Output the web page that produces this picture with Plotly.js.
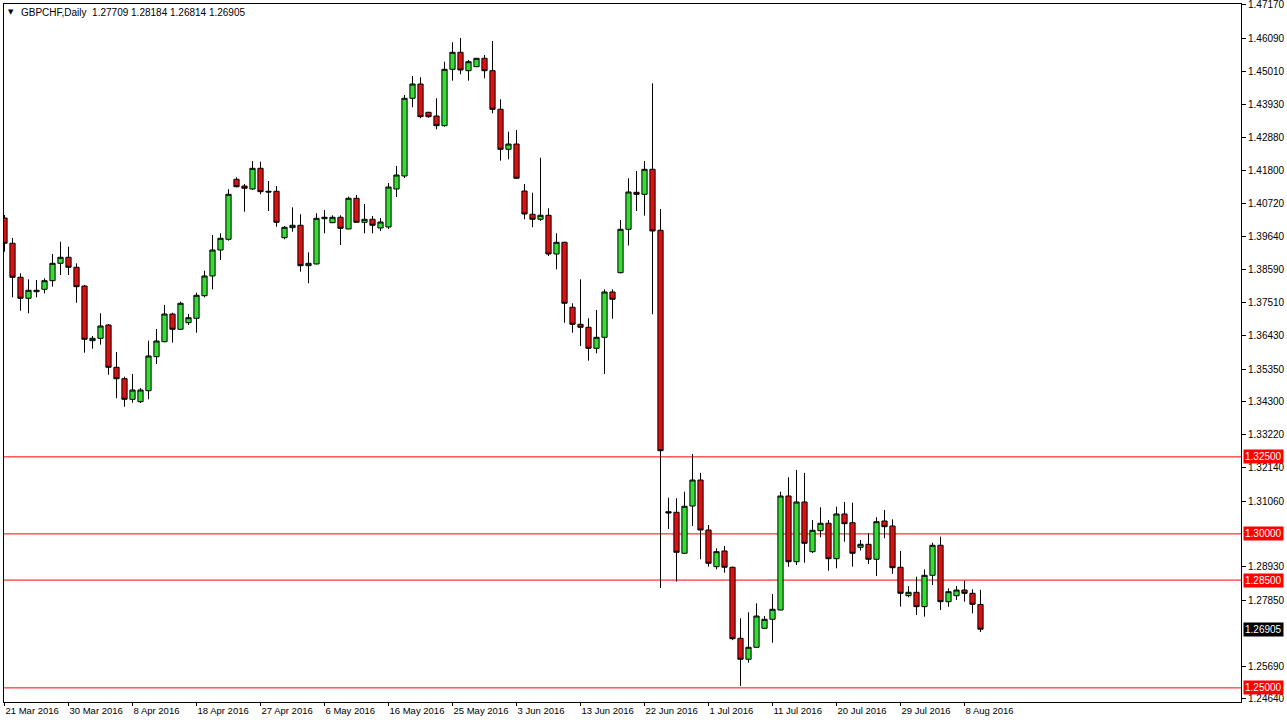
<!DOCTYPE html>
<html><head><meta charset="utf-8">
<script src="https://cdn.plot.ly/plotly-3.0.1.min.js"></script>
<style>html,body{margin:0;padding:0;background:#fff;}#chart{width:1287px;height:725px;}</style>
</head><body><div id="chart"></div>
<script>
const dates = [
'2016-03-21','2016-03-22','2016-03-23','2016-03-24','2016-03-25','2016-03-27','2016-03-28','2016-03-29',
'2016-03-30','2016-03-31','2016-04-01','2016-04-03','2016-04-04','2016-04-05','2016-04-06','2016-04-07',
'2016-04-08','2016-04-10','2016-04-11','2016-04-12','2016-04-13','2016-04-14','2016-04-15','2016-04-17',
'2016-04-18','2016-04-19','2016-04-20','2016-04-21','2016-04-22','2016-04-24','2016-04-25','2016-04-26',
'2016-04-27','2016-04-28','2016-04-29','2016-05-01','2016-05-02','2016-05-03','2016-05-04','2016-05-05',
'2016-05-06','2016-05-08','2016-05-09','2016-05-10','2016-05-11','2016-05-12','2016-05-13','2016-05-15',
'2016-05-16','2016-05-17','2016-05-18','2016-05-19','2016-05-20','2016-05-22','2016-05-23','2016-05-24',
'2016-05-25','2016-05-26','2016-05-27','2016-05-29','2016-05-30','2016-05-31','2016-06-01','2016-06-02',
'2016-06-03','2016-06-05','2016-06-06','2016-06-07','2016-06-08','2016-06-09','2016-06-10','2016-06-12',
'2016-06-13','2016-06-14','2016-06-15','2016-06-16','2016-06-17','2016-06-19','2016-06-20','2016-06-21',
'2016-06-22','2016-06-23','2016-06-24','2016-06-26','2016-06-27','2016-06-28','2016-06-29','2016-06-30',
'2016-07-01','2016-07-03','2016-07-04','2016-07-05','2016-07-06','2016-07-07','2016-07-08','2016-07-10',
'2016-07-11','2016-07-12','2016-07-13','2016-07-14','2016-07-15','2016-07-17','2016-07-18','2016-07-19',
'2016-07-20','2016-07-21','2016-07-22','2016-07-24','2016-07-25','2016-07-26','2016-07-27','2016-07-28',
'2016-07-29','2016-07-31','2016-08-01','2016-08-02','2016-08-03','2016-08-04','2016-08-05','2016-08-07',
'2016-08-08','2016-08-09','2016-08-10'];

const openP = [
1.40255,1.39434,1.38330,1.37648,1.37862,1.37940,1.38219,1.38784,
1.38979,1.38654,1.38047,1.36272,1.36349,1.36781,1.35408,1.35038,
1.34369,1.34291,1.34648,1.35752,1.36239,1.37138,1.36642,1.36856,
1.36999,1.37732,1.38372,1.39216,1.39563,1.41511,1.41294,1.41196,
1.41868,1.41122,1.41122,1.39615,1.39940,1.40018,1.38706,1.38762,
1.40232,1.40102,1.40278,1.39898,1.40895,1.40115,1.40213,1.39930,
1.39963,1.41196,1.41618,1.44141,1.44605,1.43686,1.43566,1.43251,
1.45082,1.45634,1.45037,1.45167,1.45439,1.45037,1.43784,1.42485,
1.42657,1.41131,1.40375,1.40213,1.40343,1.39086,1.39466,1.37356,
1.36804,1.36707,1.36025,1.36382,1.37853,1.38479,1.39888,1.41089,
1.41024,1.41836,1.39856,1.30720,1.30701,1.29370,1.30905,1.31749,
1.30126,1.28935,1.29445,1.28916,1.26610,1.25929,1.26318,1.26935,
1.27227,1.27529,1.31230,1.29097,1.31035,1.29422,1.30103,1.30344,
1.29194,1.30646,1.30363,1.29564,1.29662,1.29175,1.30418,1.30256,
1.28916,1.27993,1.28103,1.27637,1.28655,1.29630,1.27798,1.27993,
1.28178,1.28071,1.27709];

const highP = [
1.40352,1.39606,1.38460,1.38265,1.38242,1.38297,1.39086,1.39485,
1.39323,1.38784,1.38080,1.36424,1.37161,1.36814,1.35905,1.35103,
1.35191,1.34736,1.36272,1.36651,1.37431,1.37181,1.37538,1.37138,
1.37830,1.38544,1.39703,1.39758,1.41187,1.41576,1.41359,1.42105,
1.42083,1.41456,1.41294,1.39995,1.40602,1.40375,1.39141,1.40407,
1.40515,1.40343,1.40343,1.40946,1.41002,1.40709,1.40320,1.40255,
1.41391,1.41943,1.44248,1.44865,1.44823,1.43700,1.44141,1.45329,
1.45959,1.46098,1.45384,1.45450,1.45546,1.46001,1.44108,1.43057,
1.43112,1.41359,1.41076,1.42212,1.40570,1.39758,1.39485,1.37486,
1.38265,1.36999,1.37268,1.37940,1.37940,1.40190,1.41544,1.41781,
1.42105,1.44628,1.40547,1.31175,1.31156,1.31369,1.32593,1.31981,
1.30288,1.29532,1.29607,1.28935,1.27260,1.27454,1.27746,1.27334,
1.28048,1.31369,1.31837,1.32074,1.31981,1.30451,1.30863,1.30451,
1.30883,1.31035,1.31013,1.29801,1.30019,1.30538,1.30775,1.30473,
1.29445,1.28308,1.28610,1.28850,1.29714,1.29909,1.28233,1.28308,
1.28480,1.28201,1.28184];

const lowP = [
1.39161,1.37680,1.37245,1.37161,1.37680,1.37810,1.38025,1.38404,
1.38404,1.37505,1.35882,1.36012,1.36142,1.35168,1.34402,1.34129,
1.34259,1.34249,1.34369,1.35515,1.36220,1.36207,1.36630,1.36781,
1.36531,1.37680,1.37940,1.38891,1.39518,1.41250,1.40459,1.41164,
1.41024,1.40482,1.39972,1.39563,1.39810,1.38512,1.38135,1.38750,
1.39758,1.40090,1.39378,1.39890,1.40110,1.39758,1.39758,1.39833,
1.39898,1.40937,1.41553,1.43849,1.43492,1.43510,1.43134,1.43220,
1.44712,1.44920,1.44712,1.45150,1.44790,1.43654,1.42115,1.42160,
1.41530,1.40213,1.39953,1.40158,1.39021,1.38589,1.36856,1.36531,
1.36100,1.35622,1.35863,1.35191,1.36986,1.38460,1.39362,1.40482,
1.40330,1.37129,1.28243,1.30159,1.28448,1.29360,1.30256,1.29175,
1.28935,1.28850,1.28740,1.26550,1.25062,1.25818,1.26300,1.26920,
1.26467,1.27520,1.28935,1.28990,1.29065,1.29380,1.29889,1.28805,
1.28883,1.29746,1.28935,1.29454,1.29022,1.28633,1.29857,1.28698,
1.27637,1.27941,1.27367,1.27312,1.28340,1.27529,1.27637,1.27854,
1.27798,1.27422,1.26814];

const closeP = [
1.39434,1.38330,1.37648,1.37908,1.37908,1.38219,1.38784,1.38979,
1.38654,1.38025,1.36317,1.36349,1.36749,1.35408,1.35038,1.34369,
1.34671,1.34671,1.35775,1.36262,1.37138,1.36642,1.37486,1.37018,
1.37745,1.38372,1.39216,1.39596,1.41024,1.41271,1.41219,1.41868,
1.41109,1.41099,1.40115,1.39953,1.40018,1.38706,1.38784,1.40245,
1.40278,1.40278,1.39921,1.40895,1.40115,1.40213,1.40018,1.40125,
1.41261,1.41651,1.44141,1.44605,1.43544,1.43544,1.43251,1.45082,
1.45634,1.45060,1.45329,1.45439,1.45037,1.43784,1.42485,1.42657,
1.41544,1.40385,1.40213,1.40343,1.39086,1.39466,1.37486,1.36804,
1.36707,1.36025,1.36382,1.37853,1.37616,1.39888,1.41099,1.41024,
1.41836,1.39833,1.32701,1.30678,1.29402,1.30896,1.31749,1.30126,
1.29045,1.29422,1.28916,1.26597,1.25929,1.26318,1.27334,1.27227,
1.27552,1.31230,1.29097,1.31035,1.29694,1.30116,1.30344,1.29194,
1.30646,1.30331,1.29370,1.29662,1.29175,1.30396,1.30233,1.28902,
1.28071,1.28103,1.27637,1.28655,1.29630,1.27798,1.28123,1.28178,
1.28071,1.27714,1.26905];

const tickDates = ['2016-03-21','2016-03-30','2016-04-08','2016-04-18','2016-04-27','2016-05-06','2016-05-16','2016-05-25',
  '2016-06-03','2016-06-13','2016-06-22','2016-07-01','2016-07-11','2016-07-20','2016-07-29','2016-08-08'];
const tickLabels = ['21 Mar 2016','30 Mar 2016','8 Apr 2016','18 Apr 2016','27 Apr 2016','6 May 2016','16 May 2016','25 May 2016',
  '3 Jun 2016','13 Jun 2016','22 Jun 2016','1 Jul 2016','11 Jul 2016','20 Jul 2016','29 Jul 2016','8 Aug 2016'];
const priceTicks = [1.47170,1.46090,1.45010,1.43930,1.42880,1.41800,1.40720,1.39640,1.38590,1.37510,1.36430,
  1.35350,1.34300,1.33220,1.32140,1.31060,1.28930,1.27850,1.25690,1.24640];
const levelLines = [1.32500, 1.30000, 1.28500, 1.25000];
const lastPrice = 1.26905;
const headerSymbol = 'GBPCHF,Daily';
const headerOHLC = [1.27709, 1.28184, 1.26814, 1.26905];

const FONT = 'Liberation Sans, Arial, sans-serif';

const trace = {
  type: 'candlestick',
  x: dates, open: openP, high: highP, low: lowP, close: closeP,
  increasing: {line: {color: '#000000', width: 1}, fillcolor: '#33dd33'},
  decreasing: {line: {color: '#000000', width: 1}, fillcolor: '#dd1111'},
  whiskerwidth: 0,
  hoverinfo: 'skip'
};

const shapes = levelLines.map(v => ({
  type: 'line', xref: 'paper', x0: 0, x1: 1, yref: 'y', y0: v, y1: v,
  line: {color: '#ff0000', width: 1}, layer: 'below'
}));

const annotations = [];
levelLines.forEach(v => annotations.push({
  xref: 'paper', x: 1, xanchor: 'left', xshift: 2, yref: 'y', y: v, yanchor: 'middle',
  text: v.toFixed(5), showarrow: false, bgcolor: '#ff0000', borderpad: 1,
  font: {family: FONT, size: 10, color: '#ffffff'}
}));
annotations.push({
  xref: 'paper', x: 1, xanchor: 'left', xshift: 2, yref: 'y', y: lastPrice, yanchor: 'middle',
  text: lastPrice.toFixed(5), showarrow: false, bgcolor: '#000000', borderpad: 1,
  font: {family: FONT, size: 10, color: '#ffffff'}
});
annotations.push({
  xref: 'paper', yref: 'paper', x: 0, y: 1, xanchor: 'left', yanchor: 'top', xshift: 2, yshift: -2,
  text: '\u25BC', showarrow: false, font: {family: 'DejaVu Sans', size: 7, color: '#000'}
});
annotations.push({
  xref: 'paper', yref: 'paper', x: 0, y: 1, xanchor: 'left', yanchor: 'top', xshift: 15, yshift: -1,
  text: headerSymbol + '\u00a0\u00a0' + headerOHLC.map(v => v.toFixed(5)).join(' '),
  showarrow: false, font: {family: FONT, size: 10, color: '#000'}
});

const layout = {
  width: 1287, height: 725,
  margin: {l: 4, r: 46, t: 4, b: 23, pad: 0},
  paper_bgcolor: '#ffffff', plot_bgcolor: '#ffffff',
  showlegend: false,
  boxgap: 0.35, boxgroupgap: 0,
  xaxis: {
    type: 'category', range: [-0.0625, 154.5625],
    rangeslider: {visible: false},
    showgrid: false, zeroline: false,
    showline: true, mirror: true, linecolor: '#000', linewidth: 1,
    tickmode: 'array', tickvals: tickDates, ticktext: tickLabels,
    ticks: 'outside', ticklen: 3, tickcolor: '#000',
    ticklabelposition: 'outside right', tickangle: 0,
    ticklabeloverflow: 'allow',
    tickfont: {family: FONT, size: 9.5, color: '#000'},
    fixedrange: true
  },
  yaxis: {
    side: 'right', range: [1.24542, 1.47202],
    showgrid: false, zeroline: false,
    showline: true, mirror: true, linecolor: '#000', linewidth: 1,
    tickmode: 'array', tickvals: priceTicks, ticktext: priceTicks.map(v => v.toFixed(5)),
    ticks: 'outside', ticklen: 4, tickcolor: '#000',
    ticklabeloverflow: 'allow',
    tickfont: {family: FONT, size: 10, color: '#000'},
    fixedrange: true
  },
  shapes: shapes,
  annotations: annotations
};

Plotly.newPlot('chart', [trace], layout, {staticPlot: true, displayModeBar: false});
</script>
</body></html>
